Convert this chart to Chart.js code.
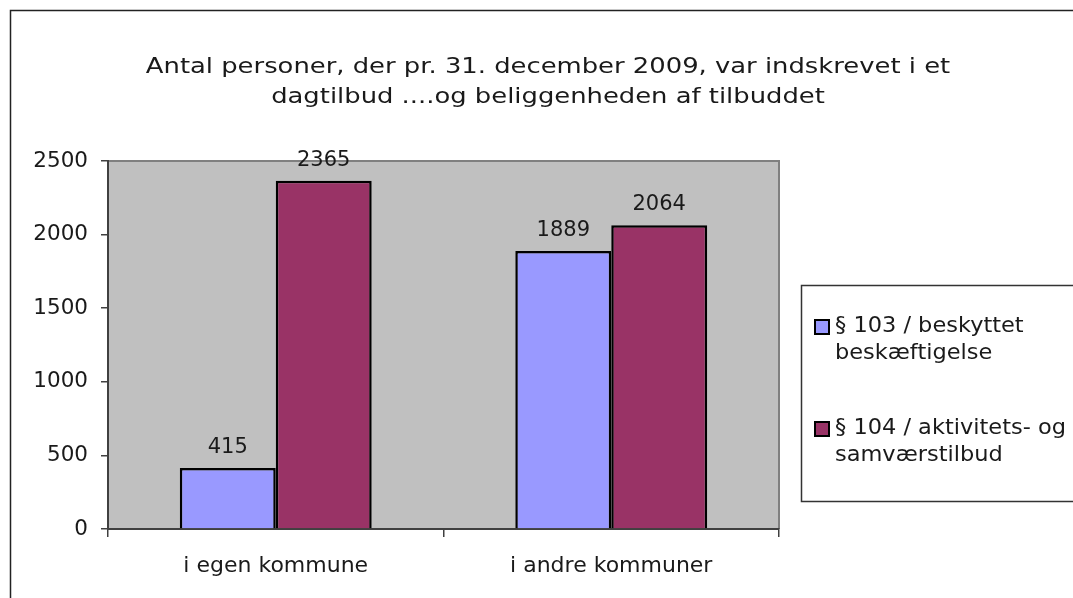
<!DOCTYPE html>
<html>
<head>
<meta charset="utf-8">
<script src="https://cdn.jsdelivr.net/npm/chart.js@4/dist/chart.umd.min.js"></script>
<style>
    body { margin: 0; background: #fff; }
    #wrap { width: 1073px; height: 598px; position: relative; }
</style>
</head>
<body>
<div id="wrap"><canvas id="chart"></canvas></div>
<script>
const categories = ['i egen kommune', 'i andre kommuner'];
const seriesNames = [
    ['§ 103 / beskyttet', 'beskæftigelse'],
    ['§ 104 / aktivitets- og', 'samværstilbud']
];
const series103 = [415, 1889];
const series104 = [2365, 2064];
const yTicks = [0, 500, 1000, 1500, 2000, 2500];
const titleLines = [
    'Antal personer, der pr. 31. december 2009, var indskrevet i et',
    'dagtilbud ....og beliggenheden af tilbuddet'
];

const fontFamily = '"DejaVu Sans", Verdana, sans-serif';
const fontSize = 21;
const textColor = '#1a1a1a';

// grey plot area, outer frame and title
const backgroundPlugin = {
    id: 'background',
    beforeDraw(chart) {
        const ctx = chart.ctx;
        const area = chart.chartArea;
        ctx.save();
        ctx.fillStyle = '#fff';
        ctx.fillRect(0, 0, chart.width, chart.height);

        ctx.strokeStyle = '#222';
        ctx.lineWidth = 1.5;
        ctx.strokeRect(10.5, 10.5, chart.width + 20, chart.height + 20);

        ctx.fillStyle = '#c0c0c0';
        ctx.fillRect(area.left, area.top, area.right - area.left, area.bottom - area.top);
        ctx.strokeStyle = '#808080';
        ctx.lineWidth = 2;
        ctx.beginPath();
        ctx.moveTo(area.left, area.top);
        ctx.lineTo(area.right, area.top);
        ctx.lineTo(area.right, area.bottom);
        ctx.stroke();

        // the title in the original is drawn wider than the other text
        ctx.fillStyle = textColor;
        ctx.font = fontSize + 'px ' + fontFamily;
        ctx.textAlign = 'center';
        ctx.textBaseline = 'middle';
        titleLines.forEach(function (line, i) {
            ctx.save();
            ctx.translate(548, 68 + i * 30);
            ctx.scale(1.23, 1);
            ctx.fillText(line, 0, 0);
            ctx.restore();
        });
        ctx.restore();
    }
};

// values above the bars
const valueLabelsPlugin = {
    id: 'valueLabels',
    afterDatasetsDraw(chart) {
        const ctx = chart.ctx;
        ctx.save();
        ctx.fillStyle = textColor;
        ctx.font = fontSize + 'px ' + fontFamily;
        ctx.textAlign = 'center';
        ctx.textBaseline = 'alphabetic';
        chart.data.datasets.forEach(function (dataset, di) {
            const meta = chart.getDatasetMeta(di);
            meta.data.forEach(function (bar, i) {
                ctx.fillText(String(dataset.data[i]), bar.x, bar.y - 15);
            });
        });
        ctx.restore();
    }
};

// boxed legend on the right with wrapped labels
const boxLegendPlugin = {
    id: 'boxLegend',
    afterDraw(chart) {
        const ctx = chart.ctx;
        const left = 801;
        const top = 285;
        const bottom = 501;
        ctx.save();
        ctx.strokeStyle = '#333';
        ctx.lineWidth = 1.5;
        ctx.strokeRect(left + 0.5, top + 0.5, chart.width, bottom - top);

        ctx.font = fontSize + 'px ' + fontFamily;
        ctx.textAlign = 'left';
        ctx.textBaseline = 'middle';
        chart.data.datasets.forEach(function (dataset, di) {
            const y = 327 + di * 102;
            ctx.fillStyle = dataset.backgroundColor;
            ctx.fillRect(815, y - 7, 14, 14);
            ctx.strokeStyle = '#000';
            ctx.lineWidth = 2;
            ctx.strokeRect(815, y - 7, 14, 14);
            ctx.fillStyle = textColor;
            seriesNames[di].forEach(function (line, li) {
                ctx.save();
                ctx.translate(835, y + li * 27);
                ctx.scale(1.07, 1);
                ctx.fillText(line, 0, 0);
                ctx.restore();
            });
        });
        ctx.restore();
    }
};

const config = {
    type: 'bar',
    data: {
        labels: categories,
        datasets: [{
            label: seriesNames[0].join(' '),
            data: series103,
            backgroundColor: '#9999ff',
            borderColor: '#000',
            borderWidth: 2.5,
            categoryPercentage: 0.572,
            barPercentage: 1
        }, {
            label: seriesNames[1].join(' '),
            data: series104,
            backgroundColor: '#993366',
            borderColor: '#000',
            borderWidth: 2.5,
            categoryPercentage: 0.572,
            barPercentage: 1
        }]
    },
    options: {
        responsive: true,
        maintainAspectRatio: false,
        animation: false,
        layout: {
            padding: { left: 0, right: 294, top: 161, bottom: 0 }
        },
        scales: {
            x: {
                grid: {
                    offset: true,
                    drawOnChartArea: false,
                    tickLength: 8,
                    color: '#404040',
                    lineWidth: 1.5
                },
                border: { display: true, color: '#404040', width: 2 },
                ticks: {
                    color: textColor,
                    padding: 16,
                    font: { family: fontFamily, size: 22 }
                },
                afterFit(scale) {
                    scale.height = 69;
                }
            },
            y: {
                min: yTicks[0],
                max: yTicks[yTicks.length - 1],
                afterBuildTicks(scale) {
                    scale.ticks = yTicks.map(function (v) { return { value: v }; });
                },
                ticks: {
                    color: textColor,
                    padding: 13,
                    font: { family: fontFamily, size: 21.5 },
                    callback: function (value) { return String(value); }
                },
                grid: {
                    drawOnChartArea: false,
                    tickLength: 7,
                    color: '#404040',
                    lineWidth: 1.5
                },
                border: { display: true, color: '#404040', width: 2 },
                afterFit(scale) {
                    scale.width = 108;
                }
            }
        },
        plugins: {
            legend: { display: false },
            title: { display: false },
            tooltip: { enabled: false }
        }
    },
    plugins: [backgroundPlugin, valueLabelsPlugin, boxLegendPlugin]
};

const chart = new Chart(document.getElementById('chart').getContext('2d'), config);
</script>
</body>
</html>
